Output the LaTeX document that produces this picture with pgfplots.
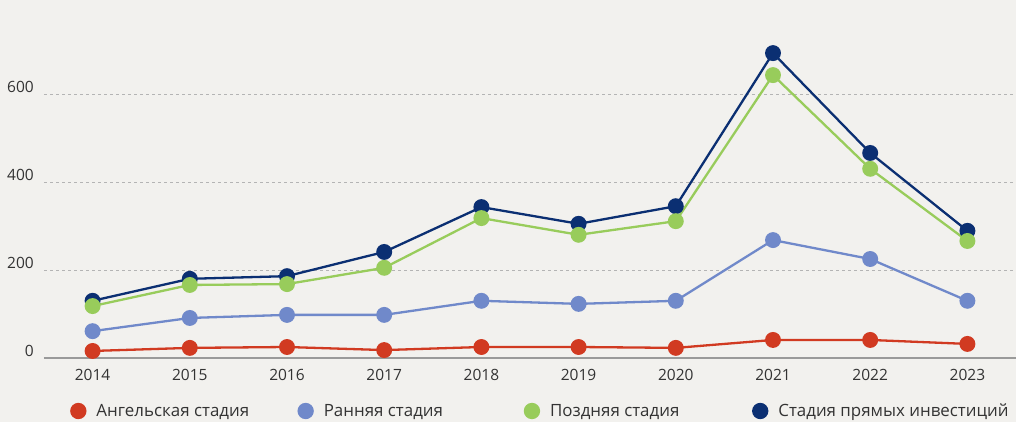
\documentclass[border=0pt]{standalone}
\usepackage{fontspec}
\setmainfont{Open Sans}
\usepackage{pgfplots}
\pgfplotsset{compat=1.18}
\definecolor{bg}{HTML}{F2F1EE}
\definecolor{txt}{HTML}{333333}
\definecolor{cred}{HTML}{D13A21}
\definecolor{cblue}{HTML}{7089CA}
\definecolor{cgreen}{HTML}{98CC5B}
\definecolor{cnavy}{HTML}{0B2F72}
\definecolor{gridc}{HTML}{B4B4B4}
\definecolor{axc}{HTML}{9A9A9A}
\begin{document}
\begin{tikzpicture}
\fill[bg] (0bp,0bp) rectangle (1016bp,422bp);
\begin{pgfinterruptboundingbox}
\begin{axis}[
  at={(44bp,64bp)}, anchor=south west,
  scale only axis, width=972bp, height=330bp,
  xmin=2013.5, xmax=2023.5, ymin=0, ymax=750,
  clip=false,
  separate axis lines,
  axis x line*=bottom, axis y line*=left,
  x axis line style={draw=axc, line width=1.2bp, -},
  y axis line style={draw=none},
  xtick={2014,2015,...,2023}, ytick={0,200,400,600},
  major tick length=0pt,
  /pgf/number format/1000 sep={},
  /pgf/number format/assume math mode=true,
  xticklabel style={font=\fontsize{15.5bp}{18bp}\selectfont, text=txt, anchor=north, inner sep=0pt, yshift=-11bp},
  yticklabel style={font=\fontsize{15.5bp}{18bp}\selectfont, text=txt, anchor=east, inner sep=0pt, xshift=-10bp, yshift=7bp},
  ymajorgrids,
  major grid style={draw=gridc, line width=0.9bp, dash pattern=on 3bp off 3bp},
  every axis plot/.append style={line width=2.3bp, mark=*, mark size=6.8bp, mark options={solid}},
  legend columns=4,
  reverse legend,
  legend image code/.code={\fill[#1] (7bp,0bp) circle (7bp);},
  legend style={at={(axis description cs:0,0)}, anchor=west, xshift=26bp, yshift=-53bp,
    draw=none, fill=none, inner sep=0pt, column sep=0pt,
    nodes={inner sep=0pt},
    font=\fontsize{16.9bp}{20bp}\selectfont, text=txt},
]
\addplot[color=cnavy] coordinates {(2014,130) (2015,180) (2016,186) (2017,241) (2018,343) (2019,305) (2020,345) (2021,693) (2022,466) (2023,289)};
\addlegendentry{\hspace*{10bp}Стадия прямых инвестиций}
\addplot[color=cgreen] coordinates {(2014,118) (2015,166) (2016,168) (2017,205) (2018,318) (2019,280) (2020,311) (2021,643) (2022,430) (2023,266)};
\addlegendentry{\hspace*{10bp}\makebox[202bp][l]{Поздняя стадия}}
\addplot[color=cblue] coordinates {(2014,61) (2015,91) (2016,98) (2017,98) (2018,130) (2019,123) (2020,130) (2021,268) (2022,225) (2023,130)};
\addlegendentry{\hspace*{10bp}\makebox[200bp][l]{Ранняя стадия}}
\addplot[color=cred] coordinates {(2014,16) (2015,23) (2016,25) (2017,18) (2018,25) (2019,25) (2020,23) (2021,41) (2022,41) (2023,32)};
\addlegendentry{\hspace*{10bp}\makebox[201bp][l]{Ангельская стадия}}
\end{axis}
\end{pgfinterruptboundingbox}
\path (0bp,0bp) rectangle (1016bp,422bp);
\end{tikzpicture}
\end{document}
